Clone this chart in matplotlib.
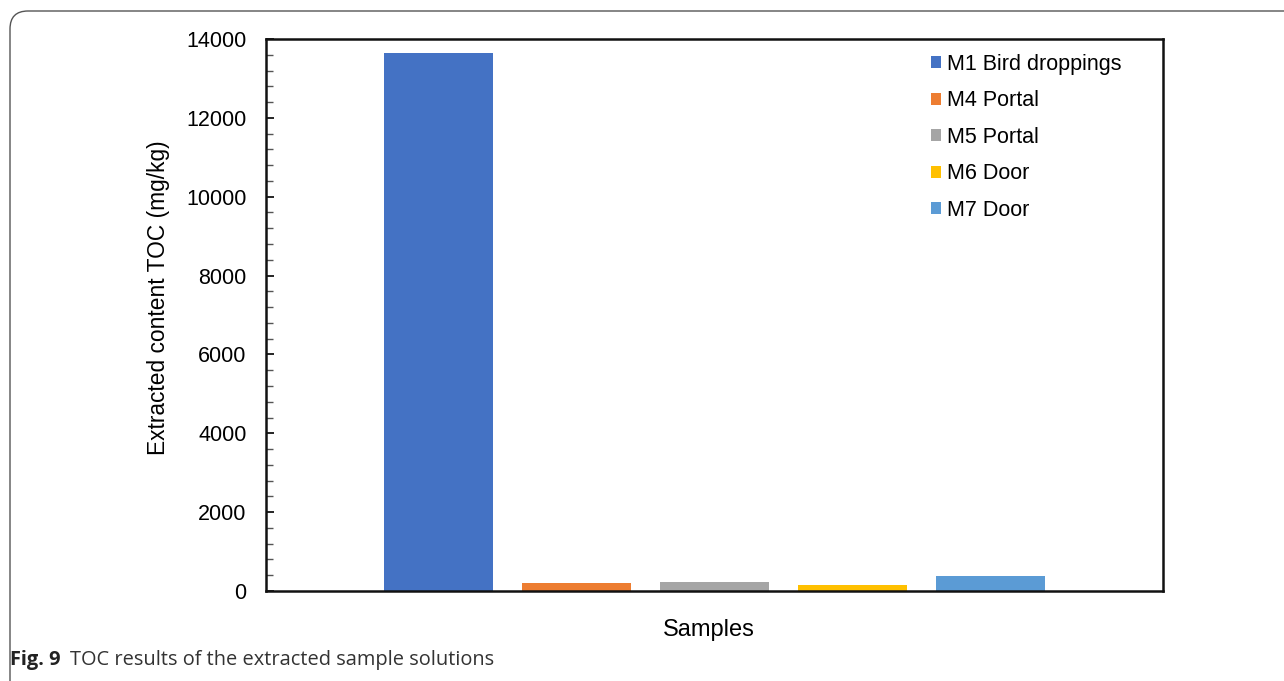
import matplotlib
matplotlib.use("Agg")
import matplotlib.pyplot as plt
from matplotlib.patches import FancyBboxPatch
from matplotlib.ticker import MultipleLocator

labels = ["M1 Bird droppings", "M4 Portal", "M5 Portal", "M6 Door", "M7 Door"]
values = [13650, 195, 220, 145, 373]
colors = ["#4472C4", "#ED7D31", "#A5A5A5", "#FFC000", "#5B9BD5"]

W, H = 1284, 681
fig = plt.figure(figsize=(W / 100, H / 100), dpi=100)
plt.rcParams['font.family'] = ['Liberation Sans', 'DejaVu Sans']

# outer rounded frame (open at right and bottom, beyond the figure)
x0 = 10 / W
ytop = 1 - 11 / H
frame = FancyBboxPatch((x0, -0.3), 1.3, ytop + 0.3, boxstyle="round,pad=0,rounding_size=0.014",
                       transform=fig.transFigure, fill=False, edgecolor="#555555", linewidth=1.0,
                       mutation_aspect=W / H)
fig.patches.append(frame)

ax = fig.add_axes([266 / W, 1 - 591 / H, (1163 - 266) / W, (591 - 39) / H])
step = 138 / 897
width = 109 / 897
for i, (lab, v, c) in enumerate(zip(labels, values, colors)):
    ax.bar((i - 2) * step, v, width=width, color=c, label=lab)

ax.set_xlim(-0.5, 0.5)
ax.set_ylim(0, 14000)
ax.yaxis.set_major_locator(MultipleLocator(2000))
ax.yaxis.set_minor_locator(MultipleLocator(400))
ax.set_xticks([])
ax.tick_params(axis='y', which='major', direction='in', length=6, width=1.2, labelsize=15.5, pad=14)
ax.tick_params(axis='y', which='minor', direction='in', length=5, width=1.0, color="#555555")
for s in ax.spines.values():
    s.set_linewidth(1.8)
    s.set_color("#111111")
ax.set_ylabel("Extracted content TOC (mg/kg)", fontsize=16.4, labelpad=12)
ax.yaxis.label.set_y(0.532)
ax.set_xlabel("Samples", fontsize=17, labelpad=20)
ax.xaxis.label.set_x(0.494)

leg = ax.legend(loc="upper right", bbox_to_anchor=(0.975, 1.008), frameon=False, fontsize=15.5,
                handlelength=0.5, handleheight=0.5, handletextpad=0.25, labelspacing=0.72)

fig.text(10 / W, 1 - 660 / H, "Fig. 9", fontsize=14.4, fontweight="bold", family="Open Sans",
         va="center", ha="left", color="#222222")
fig.text(70 / W, 1 - 660 / H, "TOC results of the extracted sample solutions", fontsize=14.4,
         family="Open Sans", va="center", ha="left", color="#333333")

fig.savefig("out.png", dpi=100)
